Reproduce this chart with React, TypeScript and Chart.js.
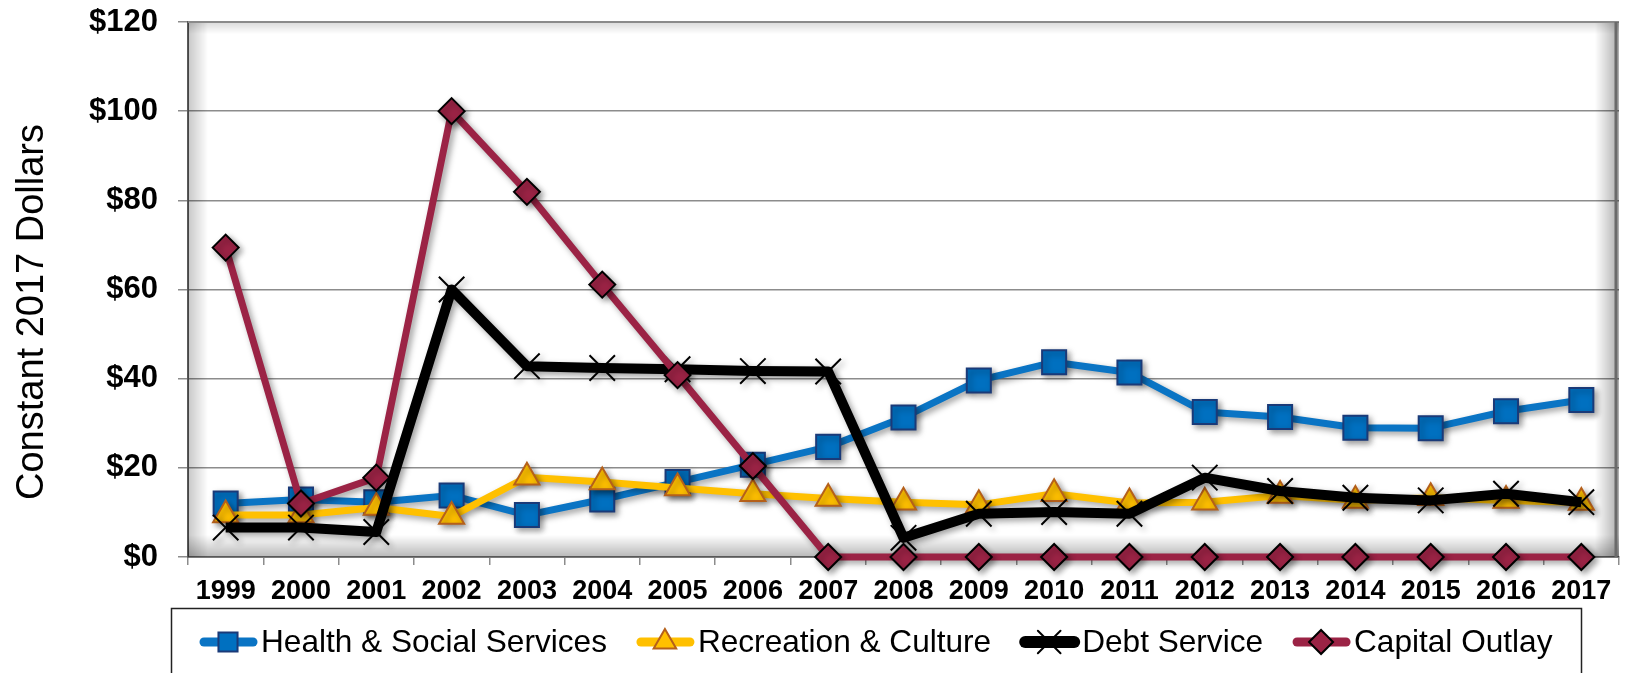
import React, { useEffect, useRef } from "react";
import { Chart, registerables } from "chart.js";
import { drawPoint } from "chart.js/helpers";

Chart.register(...registerables);

const years = [
  "1999", "2000", "2001", "2002", "2003", "2004", "2005", "2006", "2007", "2008",
  "2009", "2010", "2011", "2012", "2013", "2014", "2015", "2016", "2017",
];
const healthSocial = [12.0, 12.9, 12.3, 13.8, 9.4, 12.9, 16.8, 20.7, 24.7, 31.3, 39.6, 43.7, 41.4, 32.5, 31.4, 29.0, 28.9, 32.7, 35.2];
const recreationCulture = [9.4, 9.4, 11.1, 9.1, 17.9, 16.8, 15.5, 14.2, 13.1, 12.3, 11.7, 14.2, 12.1, 12.3, 13.8, 12.7, 13.3, 12.7, 12.2];
const debtService = [6.6, 6.6, 5.6, 60.0, 42.8, 42.4, 42.1, 41.7, 41.6, 4.3, 9.7, 10.1, 9.7, 17.8, 14.8, 13.3, 12.7, 14.2, 12.3];
const capitalOutlay = [69.4, 12.0, 17.8, 100.0, 81.9, 61.1, 40.8, 20.4, 0, 0, 0, 0, 0, 0, 0, 0, 0, 0, 0];
const yTicks = [0, 20, 40, 60, 80, 100, 120];
const seriesNames = ["Health & Social Services", "Recreation & Culture", "Debt Service", "Capital Outlay"];
const yTitle = "Constant 2017 Dollars";

const FONT = "'Liberation Sans', Arial, sans-serif";

const styles = [
  { line: "#0A74C4", width: 7, pointStyle: "rect", radius: 17, fill: "#0070C0", border: "#1A3A78", bw: 2, legendRadius: 13.5 },
  { line: "#FFC000", width: 7, pointStyle: "triangle", radius: 14.5, fill: "#FFC000", border: "#B5601A", bw: 2, legendRadius: 13 },
  { line: "#000000", width: 10, pointStyle: "crossRot", radius: 18, fill: "#000000", border: "#000000", bw: 2, legendRadius: 16 },
  { line: "#9B2345", width: 7, pointStyle: "rectRot", radius: 13, fill: "#9B2345", border: "#000000", bw: 2, legendRadius: 12 },
];

const shadowPlugin = {
  id: "lineShadow",
  beforeDatasetDraw(chart: any) {
    const c = chart.ctx;
    c.save();
    c.shadowColor = "rgba(0,0,0,0.38)";
    c.shadowBlur = 6;
    c.shadowOffsetX = 3;
    c.shadowOffsetY = 3;
  },
  afterDatasetDraw(chart: any) {
    chart.ctx.restore();
  },
};

const framePlugin = {
  id: "frame",
  beforeDatasetsDraw(chart: any) {
    const c = chart.ctx;
    const { left, right, top, bottom } = chart.chartArea;
    c.save();
    let g = c.createLinearGradient(left, 0, left + 20, 0);
    g.addColorStop(0, "rgba(0,0,0,0.22)");
    g.addColorStop(1, "rgba(0,0,0,0)");
    c.fillStyle = g;
    c.fillRect(left, top, 20, bottom - top);
    g = c.createLinearGradient(0, bottom, 0, bottom - 22);
    g.addColorStop(0, "rgba(0,0,0,0.28)");
    g.addColorStop(1, "rgba(0,0,0,0)");
    c.fillStyle = g;
    c.fillRect(left, bottom - 22, right - left, 22);
    g = c.createLinearGradient(right, 0, right - 24, 0);
    g.addColorStop(0, "rgba(0,0,0,0.32)");
    g.addColorStop(1, "rgba(0,0,0,0)");
    c.fillStyle = g;
    c.fillRect(right - 24, top, 24, bottom - top);
    g = c.createLinearGradient(0, top, 0, top + 12);
    g.addColorStop(0, "rgba(0,0,0,0.15)");
    g.addColorStop(1, "rgba(0,0,0,0)");
    c.fillStyle = g;
    c.fillRect(left, top, right - left, 12);
    c.strokeStyle = "#8a8a8a";
    c.lineWidth = 2;
    c.beginPath();
    c.moveTo(left, top);
    c.lineTo(right - 2, top);
    c.stroke();
    c.strokeStyle = "#6a6a6a";
    c.lineWidth = 3;
    c.beginPath();
    c.moveTo(right - 3, top);
    c.lineTo(right - 3, bottom);
    c.stroke();
    c.restore();
  },
  afterDraw(chart: any) {
    const c = chart.ctx;
    c.save();
    c.fillStyle = "#000";
    c.font = `38px ${FONT}`;
    c.translate(43, 312);
    c.rotate(-Math.PI / 2);
    c.textAlign = "center";
    c.textBaseline = "alphabetic";
    c.fillText(yTitle, 0, 0);
    c.restore();

    c.save();
    c.strokeStyle = "#222";
    c.lineWidth = 1.5;
    c.strokeRect(171.5, 608.5, 1410, 90);
    c.font = `31.6px ${FONT}`;
    c.textBaseline = "middle";
    c.textAlign = "left";
    const ly = 642;
    let x = 200;
    seriesNames.forEach((name, i) => {
      const s = styles[i];
      c.strokeStyle = s.line;
      c.lineWidth = s.width + 2;
      c.lineCap = "round";
      c.beginPath();
      c.moveTo(x + 4, ly);
      c.lineTo(x + 53, ly);
      c.stroke();
      c.fillStyle = s.fill;
      c.strokeStyle = s.border;
      c.lineWidth = s.bw;
      drawPoint(c, { pointStyle: s.pointStyle, radius: s.legendRadius, rotation: 0, borderWidth: s.bw } as any, x + 28, ly);
      c.fillStyle = "#000";
      c.fillText(name, x + 61, ly + 1);
      x += 61 + c.measureText(name).width + 30;
    });
    c.restore();
  },
};

export default function App() {
  const ref = useRef<HTMLCanvasElement>(null);
  useEffect(() => {
    document.body.style.margin = "0";
    Chart.defaults.font.family = FONT;
    const canvas = ref.current!;
    const seriesData = [healthSocial, recreationCulture, debtService, capitalOutlay];
    const chart = new Chart(canvas, {
      type: "line",
      data: {
        labels: years,
        datasets: seriesData.map((d, i) => ({
          label: seriesNames[i],
          data: d,
          order: 4 - i,
          borderColor: styles[i].line,
          borderWidth: styles[i].width,
          backgroundColor: styles[i].fill,
          pointStyle: styles[i].pointStyle as any,
          pointRadius: styles[i].radius,
          pointBackgroundColor: styles[i].fill,
          pointBorderColor: styles[i].border,
          pointBorderWidth: styles[i].bw,
          tension: 0,
          fill: false,
          clip: false as any,
          borderJoinStyle: "round" as any,
        })),
      },
      options: {
        animation: false,
        responsive: false,
        events: [],
        layout: { padding: { top: 22, right: 1, bottom: 0, left: 0 } },
        plugins: { legend: { display: false }, tooltip: { enabled: false }, title: { display: false } },
        scales: {
          x: {
            type: "category",
            offset: true,
            grid: { drawOnChartArea: false, drawTicks: true, tickLength: 8, color: "#8c8c8c", lineWidth: 1.5, offset: true },
            border: { display: true, color: "#7a7a7a", width: 2 },
            ticks: { font: { size: 27, weight: "bold" }, color: "#000", padding: 10, maxRotation: 0, autoSkip: false },
            afterFit(s: any) {
              s.height = 116;
              s.paddingLeft = 0;
              s.paddingRight = 0;
            },
          },
          y: {
            min: 0,
            max: 120,
            afterBuildTicks(s: any) {
              s.ticks = yTicks.map((v) => ({ value: v }));
            },
            ticks: {
              callback: (v: any) => "$" + v,
              font: { size: 31, weight: "bold" },
              color: "#000",
              padding: 20,
            },
            grid: { color: "#8c8c8c", lineWidth: 1.5, tickLength: 10 },
            border: { display: true, color: "#5a5a5a", width: 2 },
            afterFit(s: any) {
              s.width = 188;
              s.paddingTop = 0;
              s.paddingBottom = 0;
            },
          },
        },
      },
      plugins: [shadowPlugin, framePlugin],
    });
    return () => chart.destroy();
  }, []);
  return <canvas ref={ref} width={1639} height={673} style={{ display: "block", width: 1639, height: 673 }} />;
}
